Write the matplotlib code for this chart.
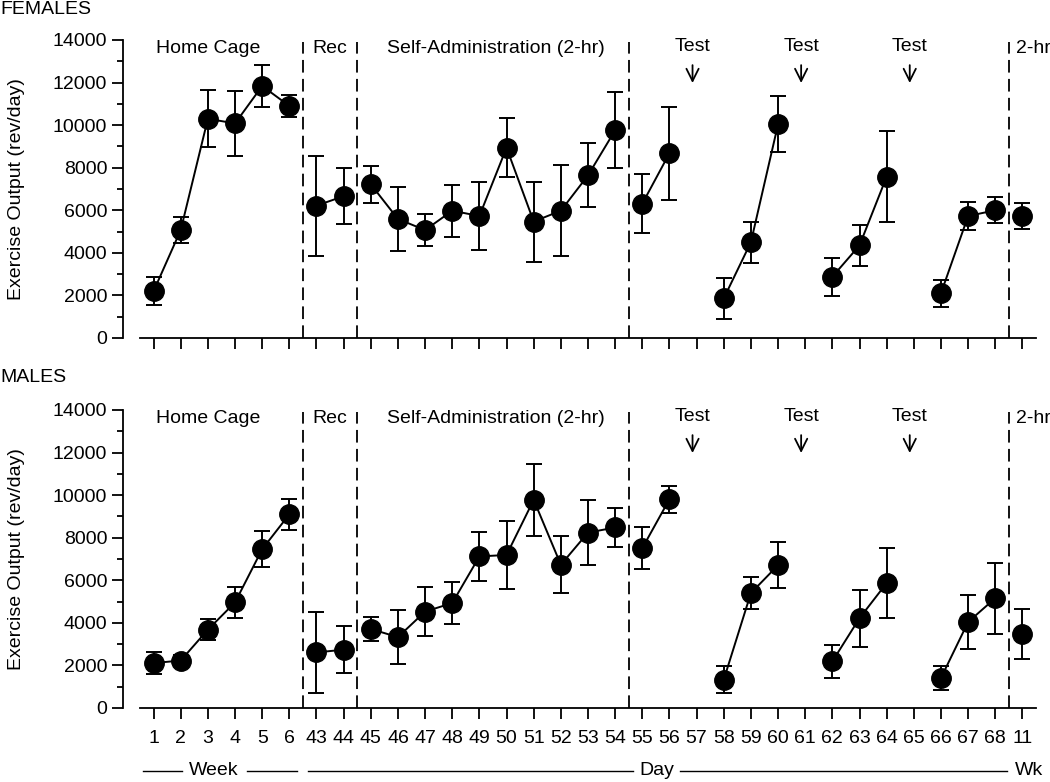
import matplotlib
matplotlib.use("Agg")
import matplotlib.pyplot as plt
import matplotlib.transforms as mtransforms
import numpy as np

plt.rcParams["font.family"] = ["Liberation Sans", "DejaVu Sans"]
plt.rcParams["font.size"] = 14

# x categories: weeks 1-6, days 43-68, week 11
tick_labels = ["1", "2", "3", "4", "5", "6"] + [str(d) for d in range(43, 69)] + ["11"]

# segments of connected points (index ranges)
segments = [(0, 5), (6, 7), (8, 17), (18, 19), (21, 23), (25, 27), (29, 31), (32, 32)]

# FEMALES: mean and SEM (None = no data on test days 57, 61, 65)
fem_mean = [2200, 5070, 10300, 10080, 11840, 10900,
            6220, 6660,
            7220, 5590, 5070, 5980, 5730, 8940, 5470, 5980, 7640, 9760,
            6310, 8680, None, 1860, 4500, 10040, None, 2880, 4350, 7580, None,
            2100, 5730, 6000,
            5730]
fem_err = [650, 600, 1350, 1520, 970, 510,
           2350, 1310,
           860, 1490, 740, 1220, 1610, 1390, 1880, 2150, 1500, 1780,
           1380, 2190, None, 960, 970, 1320, None, 890, 960, 2150, None,
           630, 650, 610,
           620]

# MALES
mal_mean = [2110, 2230, 3680, 4960, 7460, 9100,
            2610, 2740,
            3710, 3330, 4530, 4930, 7120, 7190, 9780, 6730, 8240, 8480,
            7510, 9810, None, 1330, 5400, 6710, None, 2190, 4220, 5870, None,
            1410, 4040, 5160,
            3470]
mal_err = [510, 250, 490, 730, 850, 740,
           1900, 1100,
           560, 1270, 1170, 985, 1170, 1610, 1700, 1330, 1540, 930,
           1000, 630, None, 620, 760, 1090, None, 765, 1345, 1650, None,
           550, 1260, 1660,
           1160]

phase_labels = ["Home Cage", "Rec", "Self-Administration (2-hr)"]
phase_x = [2.0, 6.5, 12.6]
dividers = [5.5, 7.5, 17.5, 31.5]
test_x = [19.85, 23.85, 27.85]

W, H = 1050, 782
fig = plt.figure(figsize=(W / 100, H / 100), dpi=100)


def draw_panel(ax, mean, err):
    x = np.arange(len(tick_labels))
    for a, b in segments:
        xs = x[a:b + 1]
        ys = [mean[i] for i in range(a, b + 1)]
        es = [err[i] for i in range(a, b + 1)]
        ax.errorbar(xs, ys, yerr=es, color="black", lw=1.4, elinewidth=1.4,
                    capsize=5.5, capthick=1.4, marker="o", markersize=14,
                    markerfacecolor="black", markeredgecolor="black", zorder=3)
    for d in dividers:
        ax.plot([d, d], [0, 13900], color="black", lw=1.3,
                linestyle=(0, (7, 3.5)), zorder=1)
    for lbl, px in zip(phase_labels, phase_x):
        ax.text(px, 13620, lbl, ha="center", va="center")
    ax.text(31.75, 13620, "2-hr", ha="left", va="center")
    for tx in test_x:
        ax.text(tx, 13680, "Test", ha="center", va="center")
        ax.annotate("", xy=(tx, 11850), xytext=(tx, 12950),
                    arrowprops=dict(arrowstyle="->", lw=1.3, color="black",
                                    mutation_scale=22))

    ax.set_xlim(-0.5, 32.5)
    ax.set_ylim(0, 14000)
    ax.set_xticks(x)
    ax.set_xticklabels(tick_labels)
    ax.set_yticks(np.arange(0, 14001, 2000))
    ax.set_yticks(np.arange(1000, 14000, 2000), minor=True)
    ax.spines["top"].set_visible(False)
    ax.spines["right"].set_visible(False)
    ax.spines["left"].set_position(("outward", 12))
    ax.spines["left"].set_linewidth(1.3)
    ax.spines["bottom"].set_linewidth(1.3)
    ax.tick_params(axis="both", which="major", length=8, width=1.3, direction="out")
    ax.tick_params(axis="x", which="major", pad=8)
    ax.tick_params(axis="y", which="minor", length=4, width=1.3, direction="out")
    ax.set_ylabel("Exercise Output (rev/day)")
    ax.yaxis.set_label_coords(-0.128, 0.5)


left = 140 / W
width = 896 / W
height = 298 / H

ax1 = fig.add_axes([left, 1 - 338 / H, width, height])
draw_panel(ax1, fem_mean, fem_err)
ax1.tick_params(axis="x", labelbottom=False)

ax2 = fig.add_axes([left, 1 - 708 / H, width, height])
draw_panel(ax2, mal_mean, mal_err)

fig.text(0.0, 1 - 9 / H, "FEMALES", ha="left", va="center")
fig.text(0.0, 1 - 378 / H, "MALES", ha="left", va="center")

# bottom bracket labels: Week / Day / Wk
tr = mtransforms.blended_transform_factory(ax2.transData, ax2.transAxes)
yb = -0.21
for x0, x1 in [(-0.39, 1.05), (3.44, 5.28), (5.69, 17.66), (19.4, 31.43)]:
    ax2.plot([x0, x1], [yb, yb], color="black", lw=1.0, transform=tr, clip_on=False)
ax2.text(2.22, yb, "Week", ha="center", va="center", transform=tr)
ax2.text(18.54, yb, "Day", ha="center", va="center", transform=tr)
ax2.text(31.73, yb, "Wk", ha="left", va="center", transform=tr)

fig.savefig("out.png", dpi=100)
